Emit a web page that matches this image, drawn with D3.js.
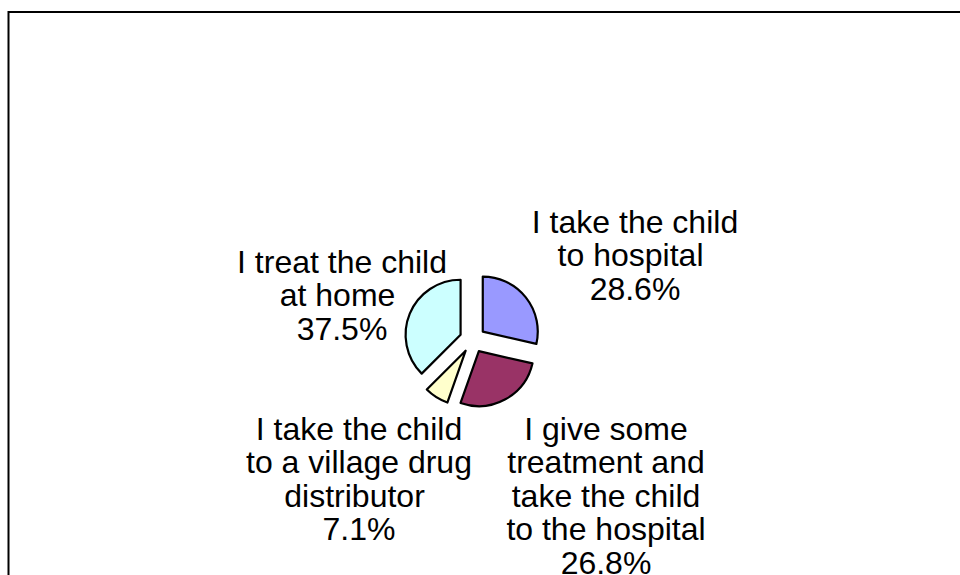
<!DOCTYPE html>
<html>
<head>
<meta charset="utf-8">
<script src="https://cdn.jsdelivr.net/npm/d3@7/dist/d3.min.js"></script>
<style>
  html, body { margin: 0; padding: 0; background: #fff; }
  svg { display: block; }
  text { font-family: "Liberation Sans", Arial, sans-serif; fill: #000; white-space: pre; }
</style>
</head>
<body>
<div id="chart"></div>
<script>
// Responses: what caregivers do when a child is sick
const categories = [
  "I take the child to hospital",
  "I give some treatment and take the child to the hospital",
  "I take the child to a village drug distributor",
  "I treat the child at home"
];
const values = [28.6, 26.8, 7.1, 37.5];
const labelLines = [
  ["I take the child", "to hospital ", "28.6%"],
  ["I give some", "treatment and", "take the child", "to the hospital", "26.8%"],
  ["I take the child", "to a village drug", "distributor ", "7.1%"],
  ["I treat the child", "at home ", "37.5%"]
];
const colors = ["#9999FF", "#993366", "#FFFFCC", "#CCFFFF"];

// Layout
const width = 960, height = 575;
const cx = 472.6, cy = 339.7, radius = 55, explode = 13;
const fontSize = 32, lineGap = 33.4;
// anchor (centre x, first baseline y) of each data label
const labelAnchor = [[635, 233], [606, 440], [359, 440], [342, 273]];

const svg = d3.select("#chart").append("svg")
  .attr("width", width).attr("height", height);

// chart area frame (runs off the right and bottom edges)
svg.append("rect")
  .attr("x", 8.5).attr("y", 12)
  .attr("width", 1000).attr("height", 700)
  .attr("fill", "none").attr("stroke", "#000").attr("stroke-width", 2);

const pie = d3.pie().sort(null).value(d => d).startAngle(0).endAngle(2 * Math.PI);
const arcs = pie(values);
const arc = d3.arc().innerRadius(0).outerRadius(radius);

const g = svg.append("g").attr("transform", `translate(${cx},${cy})`);

g.selectAll("path.slice")
  .data(arcs)
  .join("path")
  .attr("class", "slice")
  .attr("transform", d => {
    const a = (d.startAngle + d.endAngle) / 2;
    return `translate(${explode * Math.sin(a)},${-explode * Math.cos(a)})`;
  })
  .attr("d", arc)
  .attr("fill", (d, i) => colors[i])
  .attr("stroke", "#000")
  .attr("stroke-width", 2.2)
  .attr("stroke-linejoin", "round");

const labels = svg.selectAll("text.label")
  .data(labelLines)
  .join("text")
  .attr("class", "label")
  .attr("text-anchor", "middle")
  .attr("font-size", fontSize)
  .attr("x", (d, i) => labelAnchor[i][0])
  .attr("y", (d, i) => labelAnchor[i][1]);

labels.selectAll("tspan")
  .data((d, i) => d.map(t => ({ t, i })))
  .join("tspan")
  .attr("x", d => labelAnchor[d.i][0])
  .attr("dy", (d, j) => j === 0 ? 0 : lineGap)
  .text(d => d.t);
</script>
</body>
</html>
